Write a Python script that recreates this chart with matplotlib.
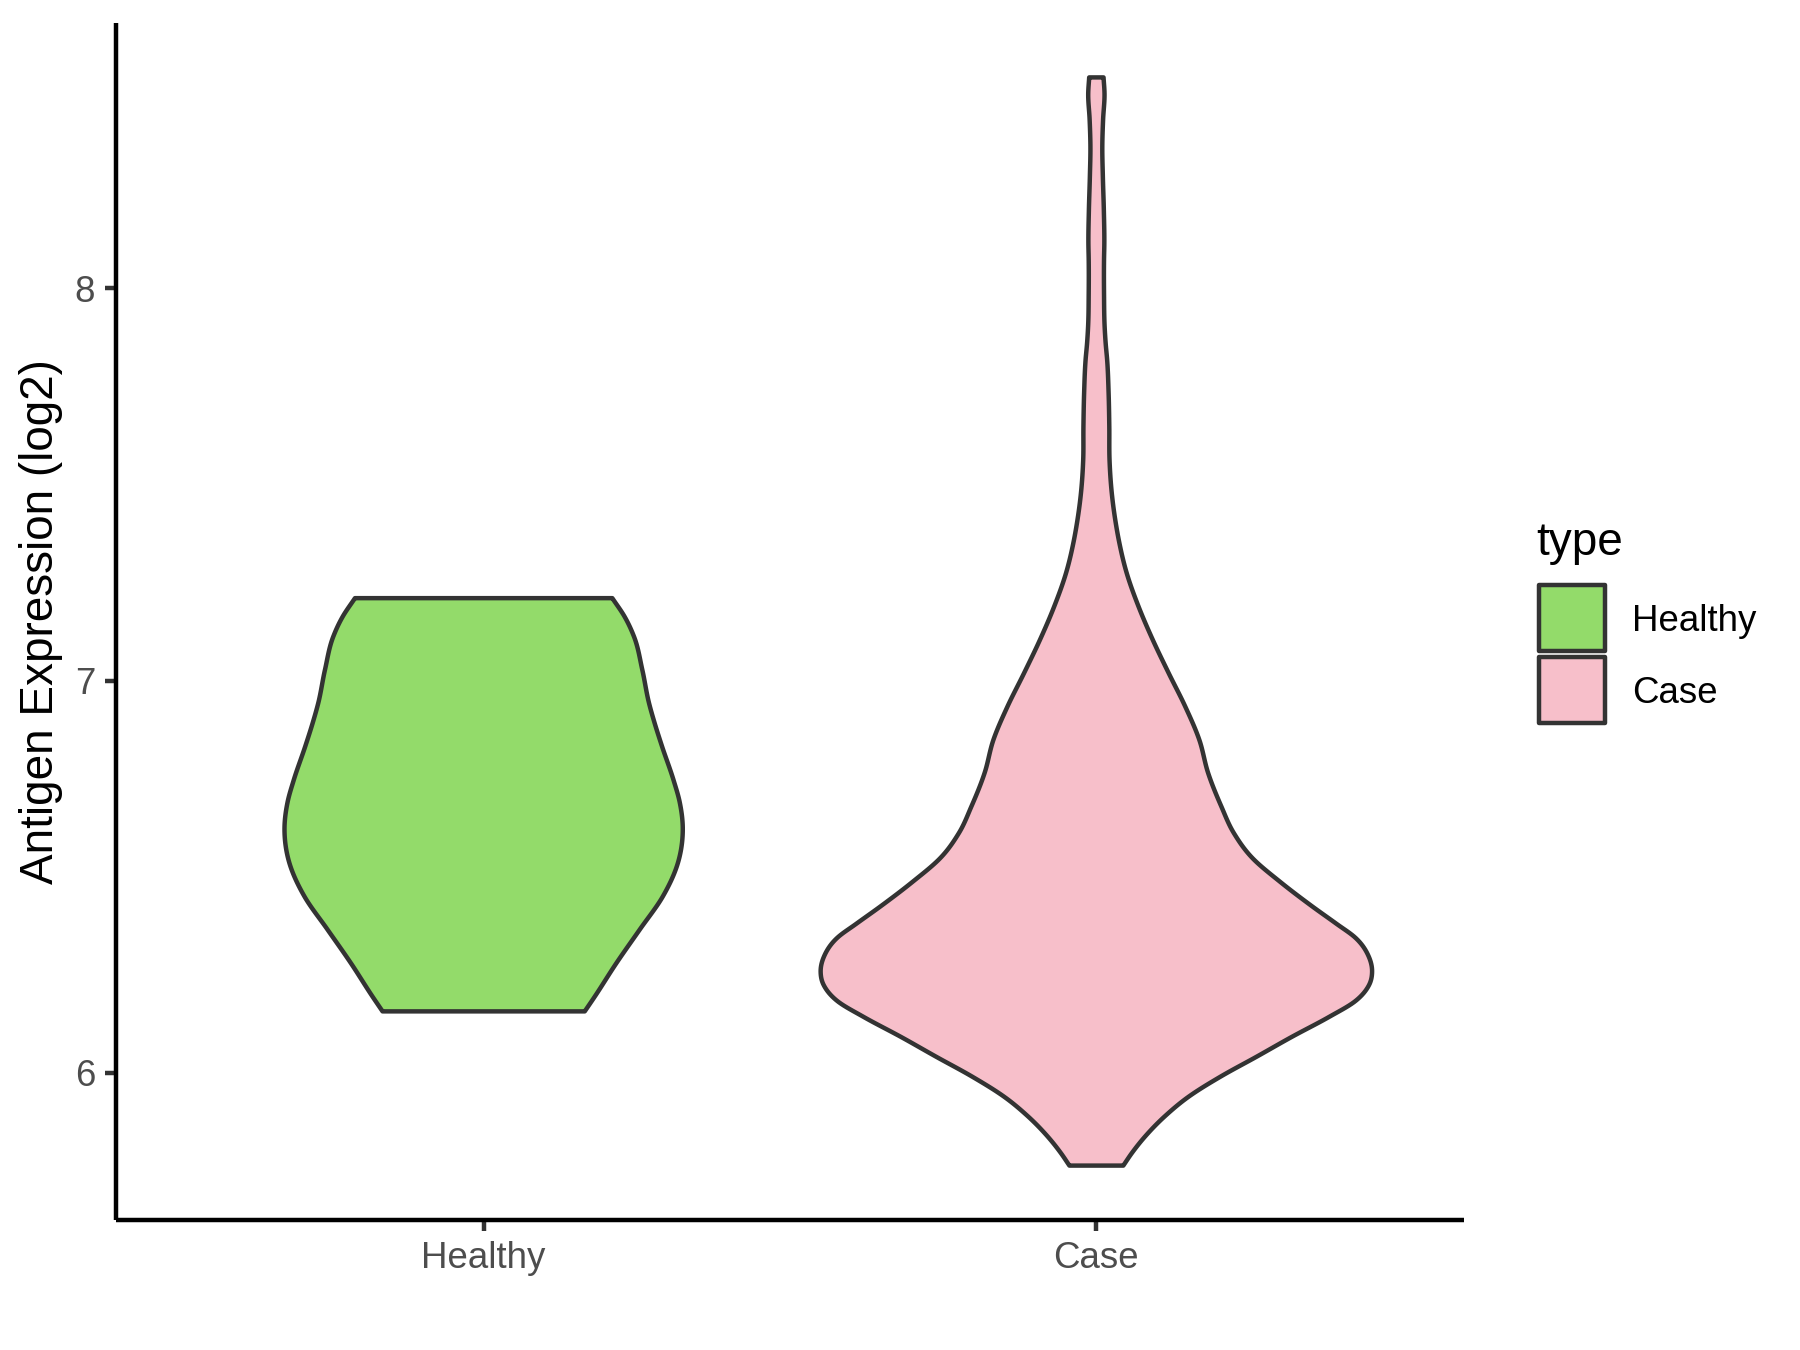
import numpy as np
import matplotlib
matplotlib.use("Agg")
import matplotlib.pyplot as plt
from matplotlib.patches import Polygon, Rectangle

plt.rcParams['font.family'] = ['Liberation Sans', 'DejaVu Sans']

# ---- data ----
categories = ["Healthy", "Case"]
fill_colors = ["#93DB6A", "#F7BFCA"]
edge_color = "#333333"

# violin outline: expression level (log2) and half-width (in category units)
healthy_expr = [6.157, 6.195, 6.280, 6.365, 6.450, 6.535, 6.620, 6.690,
                6.746, 6.833, 6.892, 6.942, 7.027, 7.112, 7.163, 7.210]
healthy_halfwidth = [0.165, 0.1815, 0.2167, 0.2546, 0.2925, 0.317, 0.325,
                     0.320, 0.310, 0.291, 0.279, 0.270, 0.259, 0.2454, 0.230,
                     0.210]

case_expr = [5.764, 5.795, 5.839, 5.890, 5.940, 5.991, 6.041, 6.092, 6.143,
             6.183, 6.224, 6.259, 6.295, 6.345, 6.380, 6.426, 6.487, 6.548,
             6.611, 6.679, 6.764, 6.849, 6.934, 7.019, 7.104, 7.188, 7.274,
             7.358, 7.400, 7.477, 7.562, 7.647, 7.732, 7.817, 7.859, 7.902,
             7.987, 8.072, 8.114, 8.199, 8.284, 8.360, 8.430, 8.496, 8.537]
case_halfwidth = [0.044, 0.0575, 0.080, 0.112, 0.151, 0.203, 0.261, 0.319,
                  0.380, 0.4225, 0.445, 0.450, 0.445, 0.4225, 0.392, 0.351,
                  0.300, 0.2545, 0.2245, 0.204, 0.1825, 0.168, 0.145, 0.118,
                  0.092, 0.069, 0.0495, 0.0366, 0.0318, 0.0252, 0.0215,
                  0.0211, 0.0200, 0.0176, 0.0152, 0.0135, 0.0125, 0.0125,
                  0.0130, 0.0122, 0.0106, 0.0097, 0.0110, 0.0133, 0.0117]

y_ticks = [6, 7, 8]
y_label = "Antigen Expression (log2)"
legend_title = "type"


def smooth_profile(y, w, n=600):
    """Cubic Hermite curve through the read points, as a function of y."""
    y = np.asarray(y, float)
    w = np.asarray(w, float)
    h = np.diff(y)
    s = np.diff(w) / h
    d = np.empty_like(w)
    d[0], d[-1] = s[0], s[-1]
    d[1:-1] = (h[:-1] * s[1:] + h[1:] * s[:-1]) / (h[:-1] + h[1:])
    yy = np.linspace(y[0], y[-1], n)
    k = np.clip(np.searchsorted(y, yy, side="right") - 1, 0, len(y) - 2)
    t = (yy - y[k]) / h[k]
    h00 = 2 * t ** 3 - 3 * t ** 2 + 1
    h10 = t ** 3 - 2 * t ** 2 + t
    h01 = -2 * t ** 3 + 3 * t ** 2
    h11 = t ** 3 - t ** 2
    ww = h00 * w[k] + h10 * h[k] * d[k] + h01 * w[k + 1] + h11 * h[k] * d[k + 1]
    return yy, ww


fig = plt.figure(figsize=(6, 4.5), dpi=300)
ax = fig.add_axes([116 / 1800, 1 - 1220 / 1350, (1464 - 116) / 1800, (1220 - 23) / 1350])

LW = 1.07
profiles = [(healthy_expr, healthy_halfwidth), (case_expr, case_halfwidth)]
for i, (ys, ws) in enumerate(profiles):
    c = i + 1
    yy, ww = smooth_profile(ys, ws)
    right = np.column_stack([c + ww, yy])
    left = np.column_stack([c - ww[::-1], yy[::-1]])
    poly = Polygon(np.vstack([right, left]), closed=True, facecolor=fill_colors[i],
                   edgecolor=edge_color, linewidth=LW, joinstyle='round')
    ax.add_patch(poly)

all_y = np.concatenate([healthy_expr, case_expr])
lo, hi = all_y.min(), all_y.max()
pad = 0.05 * (hi - lo)
ax.set_ylim(lo - pad, hi + pad)
ax.set_xlim(0.4, 2.6)

ax.set_xticks([1, 2])
ax.set_xticklabels(categories)
ax.set_yticks(y_ticks)
ax.set_yticklabels([str(v) for v in y_ticks])

for s in ["top", "right"]:
    ax.spines[s].set_visible(False)
for s in ["left", "bottom"]:
    ax.spines[s].set_linewidth(LW)
    ax.spines[s].set_color("black")
    ax.spines[s].set_capstyle("butt")

ax.tick_params(axis="both", length=2.75, width=LW, color=edge_color,
               labelsize=8.8, labelcolor="#4D4D4D", pad=2.2)

fig.text(41 / 1800, 1 - 621.5 / 1350, y_label, rotation=90, ha="center", va="center",
         fontsize=11, color="black")

# legend
fig.text(1536 / 1800, 1 - 555 / 1350, legend_title, ha="left", va="baseline",
         fontsize=11, color="black")
key_tops = [585, 657]
label_baselines = [631, 703]
for i, cat in enumerate(categories):
    top = key_tops[i]
    rect = Rectangle((1539 / 1800, 1 - (top + 66) / 1350), 66 / 1800, 66 / 1350,
                     transform=fig.transFigure, facecolor=fill_colors[i],
                     edgecolor=edge_color, linewidth=LW, joinstyle='round')
    fig.add_artist(rect)
    fig.text(1632 / 1800, 1 - label_baselines[i] / 1350, cat, ha="left", va="baseline",
             fontsize=8.8, color="black")

fig.savefig("out.png", dpi=300, facecolor="white")
